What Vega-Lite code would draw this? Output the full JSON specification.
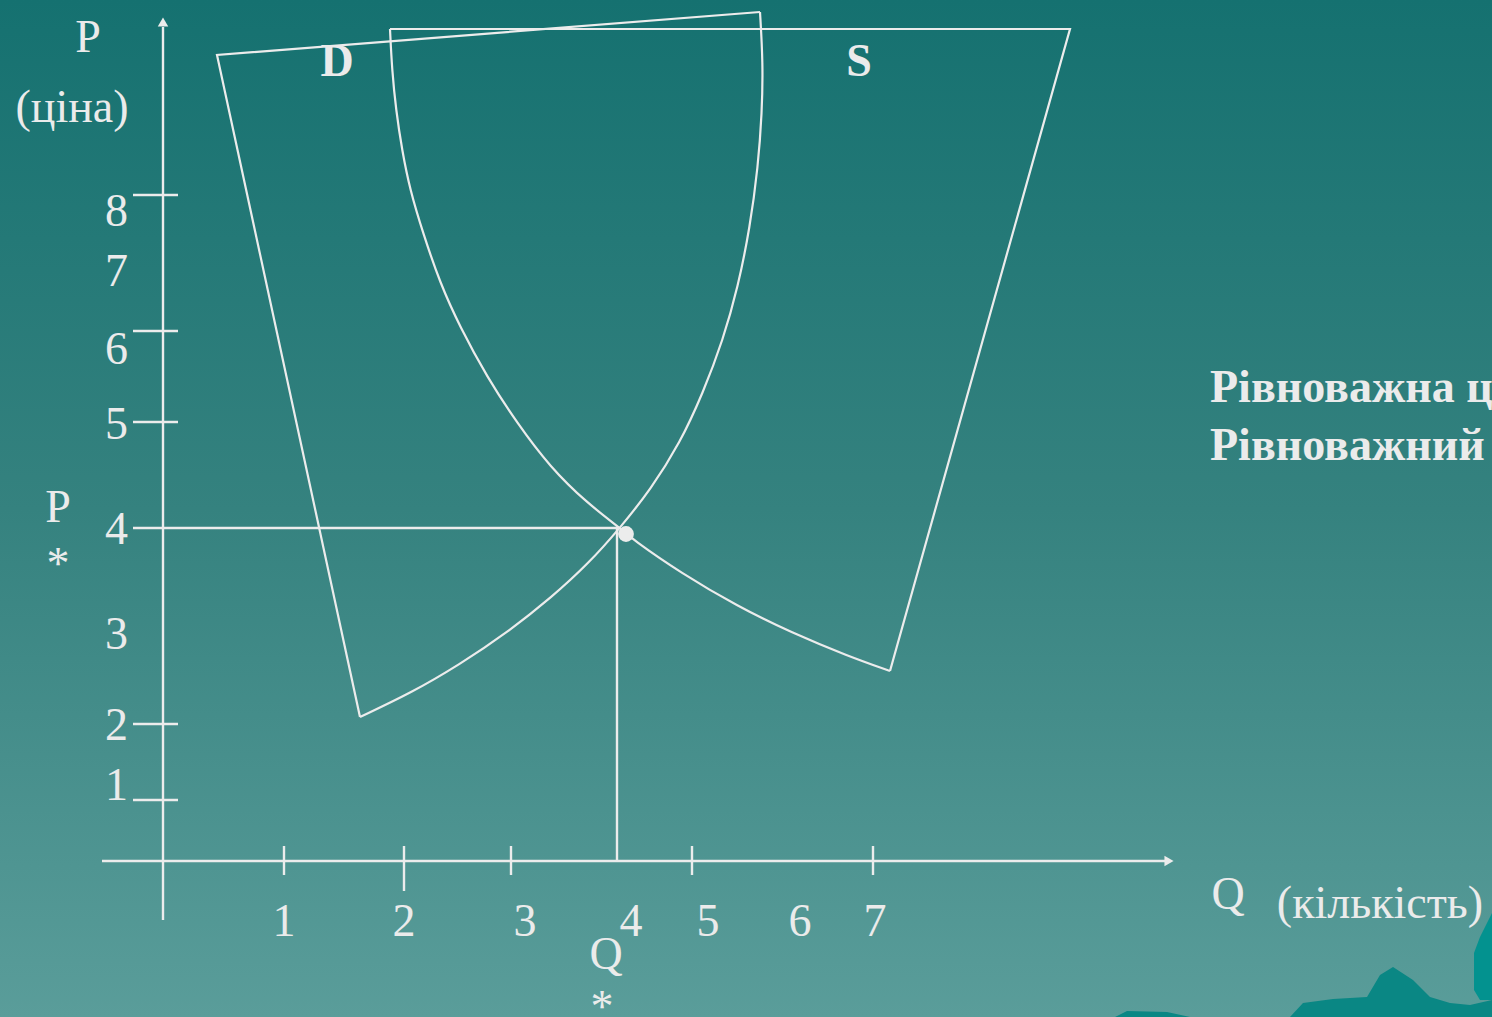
{
  "$schema": "https://vega.github.io/schema/vega-lite/v6.json",
  "width": 1492,
  "height": 1017,
  "padding": 0,
  "autosize": {"type": "none"},
  "background": "#1a7472",
  "config": {"view": {"stroke": null}},
  "datasets": {
    "bg": [{"x": 0, "y": 0, "x2": 1492, "y2": 1017}],
    "straight": [
      {"path": "s1", "ord": 1, "x": 360, "y": 717},
      {"path": "s1", "ord": 2, "x": 217, "y": 55},
      {"path": "s1", "ord": 3, "x": 760, "y": 12},
      {"path": "s2", "ord": 1, "x": 390, "y": 29},
      {"path": "s2", "ord": 2, "x": 1070, "y": 29},
      {"path": "s2", "ord": 3, "x": 890, "y": 671}
    ],
    "curves": [
      {"path": "c1", "ord": 1, "x": 760, "y": 12},
      {"path": "c1", "ord": 2, "x": 763, "y": 63},
      {"path": "c1", "ord": 3, "x": 762, "y": 113},
      {"path": "c1", "ord": 4, "x": 758, "y": 167},
      {"path": "c1", "ord": 5, "x": 750, "y": 227},
      {"path": "c1", "ord": 6, "x": 738, "y": 287},
      {"path": "c1", "ord": 7, "x": 723, "y": 340},
      {"path": "c1", "ord": 8, "x": 703, "y": 393},
      {"path": "c1", "ord": 9, "x": 680, "y": 443},
      {"path": "c1", "ord": 10, "x": 651, "y": 489},
      {"path": "c1", "ord": 11, "x": 620, "y": 528},
      {"path": "c1", "ord": 12, "x": 589, "y": 563},
      {"path": "c1", "ord": 13, "x": 552, "y": 597},
      {"path": "c1", "ord": 14, "x": 508, "y": 632},
      {"path": "c1", "ord": 15, "x": 459, "y": 665},
      {"path": "c1", "ord": 16, "x": 411, "y": 693},
      {"path": "c1", "ord": 17, "x": 360, "y": 717},
      {"path": "c2", "ord": 1, "x": 390, "y": 29},
      {"path": "c2", "ord": 2, "x": 392, "y": 70},
      {"path": "c2", "ord": 3, "x": 396, "y": 110},
      {"path": "c2", "ord": 4, "x": 402, "y": 150},
      {"path": "c2", "ord": 5, "x": 410, "y": 190},
      {"path": "c2", "ord": 6, "x": 423, "y": 233},
      {"path": "c2", "ord": 7, "x": 440, "y": 283},
      {"path": "c2", "ord": 8, "x": 460, "y": 327},
      {"path": "c2", "ord": 9, "x": 487, "y": 377},
      {"path": "c2", "ord": 10, "x": 517, "y": 423},
      {"path": "c2", "ord": 11, "x": 550, "y": 467},
      {"path": "c2", "ord": 12, "x": 587, "y": 503},
      {"path": "c2", "ord": 13, "x": 620, "y": 528},
      {"path": "c2", "ord": 14, "x": 632, "y": 539},
      {"path": "c2", "ord": 15, "x": 681, "y": 573},
      {"path": "c2", "ord": 16, "x": 737, "y": 606},
      {"path": "c2", "ord": 17, "x": 792, "y": 633},
      {"path": "c2", "ord": 18, "x": 848, "y": 656},
      {"path": "c2", "ord": 19, "x": 890, "y": 671}
    ],
    "segments": [
      {"x": 163, "y": 27, "x2": 163, "y2": 920},
      {"x": 102, "y": 861, "x2": 1165, "y2": 861},
      {"x": 133, "y": 195, "x2": 178, "y2": 195},
      {"x": 133, "y": 331, "x2": 178, "y2": 331},
      {"x": 133, "y": 422, "x2": 178, "y2": 422},
      {"x": 133, "y": 528, "x2": 619, "y2": 528},
      {"x": 133, "y": 724, "x2": 178, "y2": 724},
      {"x": 133, "y": 800, "x2": 178, "y2": 800},
      {"x": 284, "y": 846, "x2": 284, "y2": 875},
      {"x": 404, "y": 846, "x2": 404, "y2": 891},
      {"x": 511, "y": 846, "x2": 511, "y2": 875},
      {"x": 692, "y": 846, "x2": 692, "y2": 875},
      {"x": 873, "y": 846, "x2": 873, "y2": 875},
      {"x": 617, "y": 528, "x2": 617, "y2": 861}
    ],
    "arrowUp": [{"x": 163, "y": 22}],
    "arrowRight": [{"x": 1169, "y": 861}],
    "equilibrium": [{"x": 626, "y": 534}],
    "ylabels": [
      {"t": "8", "x": 128, "y": 212},
      {"t": "7", "x": 128, "y": 272},
      {"t": "6", "x": 128, "y": 350},
      {"t": "5", "x": 128, "y": 425},
      {"t": "4", "x": 128, "y": 530},
      {"t": "3", "x": 128, "y": 635},
      {"t": "2", "x": 128, "y": 726},
      {"t": "1", "x": 128, "y": 786}
    ],
    "labels": [
      {"t": "1", "x": 284, "y": 922},
      {"t": "2", "x": 404, "y": 922},
      {"t": "3", "x": 525, "y": 922},
      {"t": "4", "x": 631, "y": 922},
      {"t": "5", "x": 708, "y": 922},
      {"t": "6", "x": 800, "y": 922},
      {"t": "7", "x": 875, "y": 922},
      {"t": "P", "x": 88, "y": 38},
      {"t": "(ціна)", "x": 72, "y": 108},
      {"t": "P", "x": 58, "y": 508},
      {"t": "Q", "x": 606, "y": 955},
      {"t": "Q", "x": 1228, "y": 895},
      {"t": "(кількість)", "x": 1380, "y": 904}
    ],
    "stars": [
      {"t": "*", "x": 58, "y": 579},
      {"t": "*", "x": 602, "y": 1022}
    ],
    "boldLabels": [
      {"t": "D", "x": 337, "y": 62},
      {"t": "S", "x": 859, "y": 62}
    ],
    "sideText": [
      {"t": "Рівноважна ціна", "x": 1210, "y": 388},
      {"t": "Рівноважний обсяг", "x": 1210, "y": 446}
    ],
    "mountain": [
      {"path": "m1", "ord": 1, "x": 1115, "y": 1017},
      {"path": "m1", "ord": 2, "x": 1127, "y": 1011},
      {"path": "m1", "ord": 3, "x": 1167, "y": 1012},
      {"path": "m1", "ord": 4, "x": 1190, "y": 1017},
      {"path": "m1", "ord": 5, "x": 1290, "y": 1017},
      {"path": "m1", "ord": 6, "x": 1303, "y": 1003},
      {"path": "m1", "ord": 7, "x": 1333, "y": 999},
      {"path": "m1", "ord": 8, "x": 1367, "y": 997},
      {"path": "m1", "ord": 9, "x": 1380, "y": 975},
      {"path": "m1", "ord": 10, "x": 1393, "y": 967},
      {"path": "m1", "ord": 11, "x": 1413, "y": 980},
      {"path": "m1", "ord": 12, "x": 1430, "y": 997},
      {"path": "m1", "ord": 13, "x": 1450, "y": 1003},
      {"path": "m1", "ord": 14, "x": 1470, "y": 1005},
      {"path": "m1", "ord": 15, "x": 1492, "y": 1000},
      {"path": "m1", "ord": 16, "x": 1492, "y": 1017}
    ],
    "cliff": [
      {"path": "m2", "ord": 1, "x": 1492, "y": 913},
      {"path": "m2", "ord": 2, "x": 1480, "y": 937},
      {"path": "m2", "ord": 3, "x": 1474, "y": 953},
      {"path": "m2", "ord": 4, "x": 1474, "y": 990},
      {"path": "m2", "ord": 5, "x": 1480, "y": 1000},
      {"path": "m2", "ord": 6, "x": 1492, "y": 1000}
    ]
  },
  "encoding": {
    "x": {"field": "x", "type": "quantitative", "scale": {"domain": [0, 1492], "nice": false, "zero": false}, "axis": null},
    "y": {"field": "y", "type": "quantitative", "scale": {"domain": [0, 1017], "nice": false, "zero": false, "reverse": true}, "axis": null}
  },
  "layer": [
    {
      "data": {"name": "bg"},
      "mark": {
        "type": "rect",
        "color": {
          "gradient": "linear", "x1": 0, "y1": 0, "x2": 0, "y2": 1,
          "stops": [
            {"offset": 0, "color": "#157170"},
            {"offset": 0.5, "color": "#35827f"},
            {"offset": 1, "color": "#5a9d9a"}
          ]
        }
      },
      "encoding": {"x2": {"field": "x2"}, "y2": {"field": "y2"}}
    },
    {
      "data": {"name": "mountain"},
      "mark": {"type": "line", "filled": true, "color": "#0a8784", "strokeWidth": 0},
      "encoding": {"detail": {"field": "path"}, "order": {"field": "ord", "type": "quantitative"}}
    },
    {
      "data": {"name": "cliff"},
      "mark": {"type": "line", "filled": true, "color": "#03928f", "strokeWidth": 0},
      "encoding": {"detail": {"field": "path"}, "order": {"field": "ord", "type": "quantitative"}}
    },
    {
      "data": {"name": "straight"},
      "mark": {"type": "line", "color": "#ececec", "strokeWidth": 2.2},
      "encoding": {"detail": {"field": "path"}, "order": {"field": "ord", "type": "quantitative"}}
    },
    {
      "data": {"name": "curves"},
      "mark": {"type": "line", "color": "#ececec", "strokeWidth": 2.2, "interpolate": "basis"},
      "encoding": {"detail": {"field": "path"}, "order": {"field": "ord", "type": "quantitative"}}
    },
    {
      "data": {"name": "segments"},
      "mark": {"type": "rule", "color": "#ececec", "strokeWidth": 2.4},
      "encoding": {"x2": {"field": "x2"}, "y2": {"field": "y2"}}
    },
    {
      "data": {"name": "arrowUp"},
      "mark": {"type": "point", "shape": "triangle-up", "filled": true, "size": 110, "color": "#ececec", "opacity": 1}
    },
    {
      "data": {"name": "arrowRight"},
      "mark": {"type": "point", "shape": "triangle-right", "filled": true, "size": 110, "color": "#ececec", "opacity": 1}
    },
    {
      "data": {"name": "equilibrium"},
      "mark": {"type": "circle", "size": 250, "color": "#ececec", "opacity": 1}
    },
    {
      "data": {"name": "ylabels"},
      "mark": {"type": "text", "font": "Liberation Serif", "fontSize": 46, "color": "#ebebeb", "align": "right", "baseline": "middle"},
      "encoding": {"text": {"field": "t"}}
    },
    {
      "data": {"name": "labels"},
      "mark": {"type": "text", "font": "Liberation Serif", "fontSize": 46, "color": "#ebebeb", "align": "center", "baseline": "middle"},
      "encoding": {"text": {"field": "t"}}
    },
    {
      "data": {"name": "stars"},
      "mark": {"type": "text", "font": "Liberation Serif", "fontSize": 46, "color": "#ebebeb", "align": "center", "baseline": "alphabetic"},
      "encoding": {"text": {"field": "t"}}
    },
    {
      "data": {"name": "boldLabels"},
      "mark": {"type": "text", "font": "Liberation Serif", "fontSize": 46, "fontWeight": "bold", "color": "#ebebeb", "align": "center", "baseline": "middle"},
      "encoding": {"text": {"field": "t"}}
    },
    {
      "data": {"name": "sideText"},
      "mark": {"type": "text", "font": "Liberation Serif", "fontSize": 46, "fontWeight": "bold", "color": "#ebebeb", "align": "left", "baseline": "middle", "clip": true},
      "encoding": {"text": {"field": "t"}}
    }
  ]
}
